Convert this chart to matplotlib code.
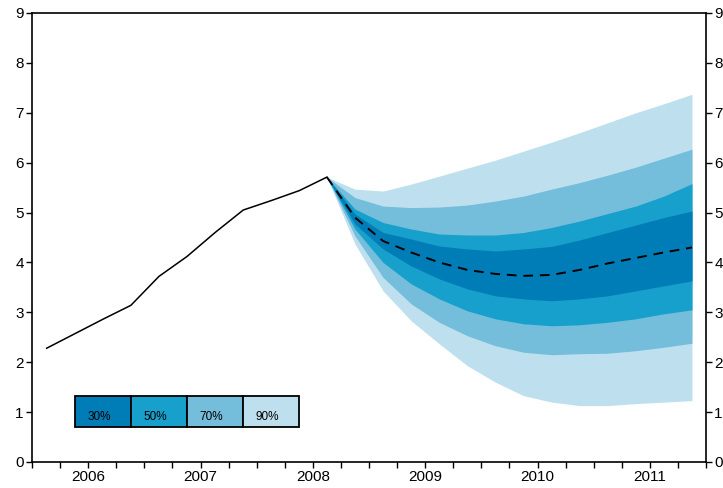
import numpy as np
import matplotlib.pyplot as plt
from matplotlib.patches import Rectangle

plt.rcParams['font.family'] = ['Liberation Sans', 'DejaVu Sans']

# history (quarterly)
hist_x = [2006.13, 2006.38, 2006.63, 2006.88, 2007.13, 2007.38, 2007.63,
          2007.88, 2008.13, 2008.38, 2008.625]
hist_y = [2.28, 2.57, 2.86, 3.14, 3.72, 4.12, 4.60, 5.05, 5.24, 5.44, 5.71]

# forecast
fc_x = [2008.625, 2008.875, 2009.125, 2009.375, 2009.625, 2009.875, 2010.125,
        2010.375, 2010.625, 2010.875, 2011.125, 2011.375, 2011.625, 2011.875]
median = [5.71, 4.90, 4.43, 4.20, 4.00, 3.85, 3.77, 3.73, 3.75, 3.85, 3.98, 4.09, 4.20, 4.30]

up90 = [5.71, 5.47, 5.43, 5.57, 5.73, 5.89, 6.05, 6.23, 6.41, 6.60, 6.80, 7.00, 7.18, 7.37]
up70 = [5.71, 5.30, 5.13, 5.10, 5.11, 5.15, 5.23, 5.33, 5.47, 5.60, 5.75, 5.91, 6.09, 6.27]
up50 = [5.71, 5.07, 4.80, 4.67, 4.57, 4.55, 4.55, 4.60, 4.70, 4.83, 4.98, 5.13, 5.33, 5.58]
up30 = [5.71, 4.97, 4.60, 4.47, 4.33, 4.27, 4.23, 4.27, 4.32, 4.45, 4.60, 4.75, 4.90, 5.03]
lo30 = [5.71, 4.77, 4.27, 3.93, 3.67, 3.47, 3.33, 3.27, 3.23, 3.27, 3.33, 3.43, 3.53, 3.63]
lo50 = [5.71, 4.67, 4.00, 3.57, 3.27, 3.03, 2.87, 2.77, 2.73, 2.75, 2.80, 2.87, 2.97, 3.05]
lo70 = [5.71, 4.53, 3.70, 3.17, 2.80, 2.53, 2.33, 2.20, 2.15, 2.17, 2.18, 2.23, 2.30, 2.38]
lo90 = [5.71, 4.37, 3.43, 2.83, 2.37, 1.93, 1.60, 1.33, 1.20, 1.13, 1.13, 1.17, 1.20, 1.23]

band_labels = ['30%', '50%', '70%', '90%']
band_colors = ['#007DB7', '#18A0CC', '#74BEDC', '#BEE0EE']

fig = plt.figure(figsize=(7.23, 4.88), dpi=100)
ax = fig.add_axes([0.0443, 0.0533, 0.9322, 0.9201])

bands = [(lo90, up90), (lo70, up70), (lo50, up50), (lo30, up30)]
for (lo, up), c in zip(bands, band_colors[::-1]):
    ax.fill_between(fc_x, lo, up, color=c, lw=0)

ax.plot(hist_x, hist_y, color='black', lw=1.1)
ax.plot(fc_x, median, color='black', lw=1.4, dashes=(5, 3.5))

ax.set_xlim(2006, 2012)
ax.set_ylim(0, 9)

qticks = np.arange(2006, 2012.01, 0.25)
ax.set_xticks(qticks)
ax.set_xticklabels([str(int(t)) if abs(t % 1 - 0.5) < 1e-6 else '' for t in qticks])
ax.set_yticks(range(0, 10))
ax.tick_params(axis='both', direction='out', length=4, width=1, labelsize=11, pad=2)
ax.tick_params(axis='y', right=True, labelright=True)
for s in ax.spines.values():
    s.set_linewidth(1.2)

# legend boxes
x0, w, y0, h = 0.0638, 0.0831, 0.078, 0.069
for i, (lab, c) in enumerate(zip(band_labels, band_colors)):
    ax.add_patch(Rectangle((x0 + i * w, y0), w, h, transform=ax.transAxes,
                           facecolor=c, edgecolor='black', lw=1.3, zorder=5))
    ax.text(x0 + i * w + 0.43 * w, y0 + 0.32 * h, lab, transform=ax.transAxes,
            ha='center', va='center', fontsize=8.5, zorder=6)

fig.savefig('out.png', dpi=100)
